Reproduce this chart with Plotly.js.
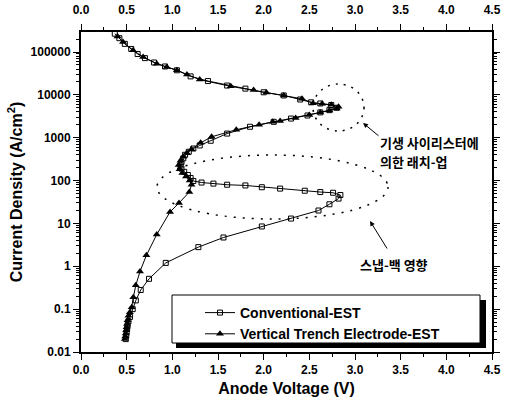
<!DOCTYPE html>
<html>
<head>
<meta charset="utf-8">
<script src="https://cdn.plot.ly/plotly-3.0.1.min.js"></script>
<style>html,body{margin:0;padding:0;background:#fff;}#chart{width:510px;height:397px;}</style>
</head>
<body>
<div id="chart"></div>
<script>
// Conventional-EST (open squares): anode voltage (V) and current density (A/cm2), in curve order
const convV = [0.49, 0.495, 0.50, 0.505, 0.51, 0.52, 0.537, 0.566, 0.60, 0.654, 0.745, 0.928, 1.285, 1.56, 1.98, 2.30, 2.60, 2.72, 2.82,
  2.84, 2.76, 2.62, 2.45, 2.18, 1.98, 1.80, 1.60, 1.45, 1.32, 1.23,
  1.20, 1.17, 1.13, 1.10, 1.09, 1.10, 1.12, 1.14, 1.18, 1.23,
  1.30, 1.42, 1.60, 1.85, 2.11, 2.30, 2.48, 2.62, 2.72, 2.80,
  2.74, 2.62, 2.52, 2.40, 2.22, 2.00, 1.80, 1.60, 1.39, 1.20, 1.05, 0.92, 0.80, 0.70, 0.62, 0.55, 0.48, 0.42, 0.37];
const convJ = [0.02, 0.024, 0.029, 0.035, 0.042, 0.052, 0.066, 0.10, 0.16, 0.28, 0.51, 1.2, 2.8, 4.7, 8.5, 13, 20, 28, 38,
  46, 52, 54, 58, 65, 70, 77, 80, 85, 90, 98,
  115, 135, 160, 190, 225, 270, 330, 400, 470, 560,
  660, 850, 1250, 1800, 2350, 2800, 3300, 3900, 4400, 5000,
  5800, 6300, 6700, 7800, 9700, 11500, 14000, 16500, 21000, 27000, 37500, 46000, 57000, 72000, 90000, 118000, 155000, 210000, 268000];

// Vertical Trench Electrode-EST (filled triangles)
const trenchV = [0.48, 0.485, 0.49, 0.495, 0.50, 0.505, 0.51, 0.52, 0.535, 0.555, 0.573, 0.60, 0.646, 0.716, 0.829, 0.975, 1.073, 1.186,
  1.21, 1.19, 1.15, 1.11, 1.08, 1.07, 1.09, 1.12, 1.16, 1.21,
  1.31, 1.43, 1.70, 1.95, 2.10, 2.18, 2.35, 2.50, 2.62, 2.72, 2.80,
  2.82, 2.74, 2.64, 2.54, 2.42, 2.22, 2.03, 1.89, 1.64, 1.30, 1.16, 1.05, 0.94, 0.83, 0.68, 0.57, 0.46, 0.40];
const trenchJ = [0.02, 0.023, 0.027, 0.032, 0.038, 0.045, 0.055, 0.07, 0.085, 0.11, 0.19, 0.36, 0.76, 1.8, 5.5, 18.6, 30, 54,
  80, 100, 125, 150, 185, 230, 290, 360, 440, 540,
  760, 1050, 1540, 2000, 2350, 2450, 2900, 3400, 3900, 4300, 4800,
  5300, 5900, 6200, 6400, 8100, 9700, 11300, 13000, 15800, 22700, 30000, 37500, 44600, 53500, 76500, 110000, 171000, 230000];

const seriesNames = ["Conventional-EST", "Vertical Trench Electrode-EST"];
const yTickVals = [0.01, 0.1, 1, 10, 100, 1000, 10000, 100000];
const yTickText = ["0.01", "0.1", "1", "10", "100", "1000", "10000", "100000"];
const xTitle = "Anode Voltage (V)";
const yTitle = "Current Density (A/cm<sup>2</sup>)";
const noteLatch1 = "기생 사이리스터에";
const noteLatch2 = "의한 래치-업";
const noteSnap = "스냅-백 영향";

const FONT = "Liberation Sans, Arial, sans-serif";
const KFONT = "Noto Sans CJK KR, sans-serif";

// pixel helpers for plot-area-relative placement (paper coords)
const L = 81, R = 18, T = 32, B = 45, W = 510, H = 397;
const pw = W - L - R, ph = H - T - B;
const px = v => (v - L) / pw;
const py = v => (H - B - v) / ph;

const traces = [
  {x: convV, y: convJ, name: seriesNames[0], type: "scatter", mode: "lines+markers",
   line: {color: "black", width: 1},
   marker: {symbol: "square-open", size: 5, color: "black", line: {width: 1, color: "black"}}},
  {x: trenchV, y: trenchJ, name: seriesNames[1], type: "scatter", mode: "lines+markers",
   line: {color: "black", width: 1},
   marker: {symbol: "triangle-up", size: 7, color: "black"}},
  {x: [], y: [], xaxis: "x2", yaxis: "y", showlegend: false, hoverinfo: "skip", type: "scatter"}
];

const axisCommon = {
  showgrid: false, zeroline: false, showline: true, linecolor: "black", linewidth: 2,
  ticks: "outside", ticklen: 6, tickwidth: 1, tickcolor: "black",
  tickfont: {family: FONT, size: 12, color: "black", weight: "bold"}
};

const layout = {
  width: W, height: H,
  margin: {l: L, r: R, t: T, b: B, pad: 0},
  paper_bgcolor: "white", plot_bgcolor: "white",
  showlegend: true,
  legend: {x: px(200), y: py(297), xanchor: "left", yanchor: "top",
    bgcolor: "rgba(0,0,0,0)", borderwidth: 0,
    font: {family: FONT, size: 14, color: "black", weight: "bold"}},
  xaxis: Object.assign({}, axisCommon, {
    range: [0, 4.5], dtick: 0.5, tick0: 0, tickformat: ".1f", mirror: false,
    minor: {dtick: 0.25, ticks: "outside", ticklen: 3, tickcolor: "black"},
    title: {text: xTitle, font: {family: FONT, size: 16, color: "black", weight: "bold"}, standoff: 6}
  }),
  xaxis2: Object.assign({}, axisCommon, {
    overlaying: "x", side: "top", anchor: "y",
    range: [0, 4.5], dtick: 0.5, tick0: 0, tickformat: ".1f",
    ticklabelstandoff: 5,
    minor: {dtick: 0.25, ticks: "outside", ticklen: 3, tickcolor: "black"}
  }),
  yaxis: Object.assign({}, axisCommon, {
    type: "log", range: [-2, 5.467], mirror: "ticks",
    tickmode: "array", tickvals: yTickVals, ticktext: yTickText,
    minor: {ticks: "outside", ticklen: 3, tickcolor: "black", dtick: "D1"},
    title: {text: yTitle, font: {family: FONT, size: 16, color: "black", weight: "bold"}, standoff: 4}
  }),
  shapes: [
    // legend shadow + box
    {type: "rect", xref: "paper", yref: "paper", layer: "above",
     x0: px(176), x1: px(486), y0: py(348), y1: py(300), fillcolor: "black", line: {width: 0}},
    {type: "rect", xref: "paper", yref: "paper", layer: "above",
     x0: px(172), x1: px(480), y0: py(343), y1: py(295), fillcolor: "white", line: {color: "black", width: 1}},
    // dotted ellipses
    {type: "circle", xref: "paper", yref: "paper", layer: "above",
     x0: px(313), x1: px(364), y0: py(131), y1: py(84), line: {color: "black", width: 1.5, dash: "2px,6px"}},
    {type: "circle", xref: "paper", yref: "paper", layer: "above",
     x0: px(157), x1: px(388), y0: py(219), y1: py(155), line: {color: "black", width: 1.5, dash: "2px,7px"}}
  ],
  annotations: [
    {xref: "paper", yref: "paper", x: px(378), y: py(142.5), xanchor: "left", yanchor: "middle", showarrow: false,
     text: noteLatch1, font: {family: KFONT, size: 13, color: "black", weight: "bold"}},
    {xref: "paper", yref: "paper", x: px(378), y: py(161), xanchor: "left", yanchor: "middle", showarrow: false,
     text: noteLatch2, font: {family: KFONT, size: 13, color: "black", weight: "bold"}},
    {xref: "paper", yref: "paper", x: px(358), y: py(264), xanchor: "left", yanchor: "middle", showarrow: false,
     text: noteSnap, font: {family: KFONT, size: 13, color: "black", weight: "bold"}},
    {xref: "paper", yref: "paper", x: px(363), y: py(123), text: "", showarrow: true,
     ax: 17, ay: 14, arrowhead: 2, arrowsize: 1, arrowwidth: 1, arrowcolor: "black"},
    {xref: "paper", yref: "paper", x: px(370), y: py(221), text: "", showarrow: true,
     ax: 18, ay: 29, arrowhead: 2, arrowsize: 1, arrowwidth: 1, arrowcolor: "black"}
  ]
};

Plotly.newPlot("chart", traces, layout, {staticPlot: true, displayModeBar: false});
</script>
</body>
</html>
